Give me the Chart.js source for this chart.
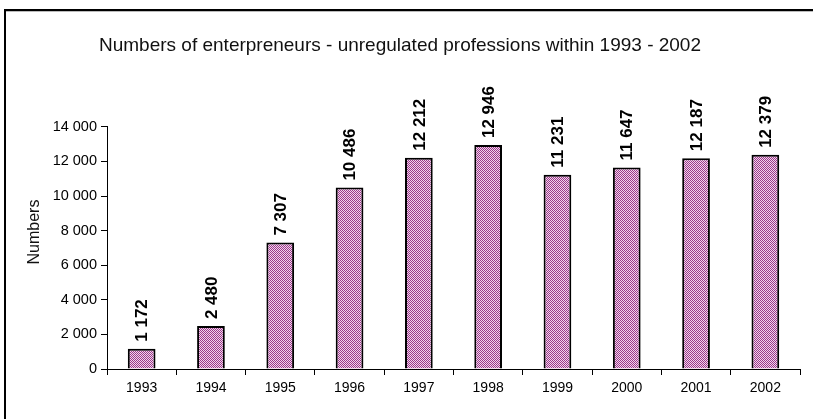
<!DOCTYPE html>
<html>
<head>
<meta charset="utf-8">
<script src="https://cdn.jsdelivr.net/npm/chart.js@4.4.1/dist/chart.umd.min.js"></script>
<style>
  html, body { margin: 0; padding: 0; background: #fff; }
  canvas { display: block; }
</style>
</head>
<body>
<canvas id="entChart" width="813" height="419"></canvas>
<script>
// Years on the x axis
const years = ['1993', '1994', '1995', '1996', '1997', '1998', '1999', '2000', '2001', '2002'];

// Number of enterpreneurs per year
const entrepreneurs = [1172, 2480, 7307, 10486, 12212, 12946, 11231, 11647, 12187, 12379];

// Labels written above the bars
const valueLabels = ['1 172', '2 480', '7 307', '10 486', '12 212', '12 946', '11 231', '11 647', '12 187', '12 379'];

// Y axis tick labels
const yTickLabels = ['0', '2 000', '4 000', '6 000', '8 000', '10 000', '12 000', '14 000'];

const FONT = 'Arial, "Liberation Sans", sans-serif';

const ctx = document.getElementById('entChart').getContext('2d');

// Excel-like 50% checker fill
function makeChecker() {
    const c = document.createElement('canvas');
    c.width = 2;
    c.height = 2;
    const g = c.getContext('2d');
    g.fillStyle = '#f2d4ec';
    g.fillRect(0, 0, 2, 2);
    g.fillStyle = '#9a3a8a';
    g.fillRect(0, 0, 1, 1);
    g.fillRect(1, 1, 1, 1);
    return ctx.createPattern(c, 'repeat');
}

// White background, frame round the chart and the y axis title
const framePlugin = {
    id: 'frame',
    beforeDraw(chart) {
        const c = chart.ctx;
        c.save();
        c.fillStyle = '#fff';
        c.fillRect(0, 0, chart.width, chart.height);
        c.fillStyle = '#bbb';
        c.fillRect(6, 11, chart.width - 6, 1);
        c.fillStyle = '#000';
        c.fillRect(4, 9, chart.width - 4, 2);
        c.fillRect(4, 9, 2, chart.height - 9);
        c.restore();
    },
    afterDraw(chart) {
        const c = chart.ctx;
        c.save();
        c.font = '16px ' + FONT;
        c.fillStyle = '#111';
        c.textAlign = 'center';
        c.textBaseline = 'middle';
        c.translate(35, 232);
        c.rotate(-Math.PI / 2);
        c.fillText('Numbers', 0, 0);
        c.restore();
    }
};

// Rotated value labels above each bar
const barLabels = {
    id: 'barLabels',
    afterDatasetsDraw(chart) {
        const c = chart.ctx;
        const meta = chart.getDatasetMeta(0);
        c.save();
        c.font = 'bold 17px ' + FONT;
        c.fillStyle = '#000';
        c.textAlign = 'left';
        c.textBaseline = 'middle';
        meta.data.forEach((bar, i) => {
            c.save();
            c.translate(bar.x + 1, bar.y - 7);
            c.rotate(-Math.PI / 2);
            c.fillText(valueLabels[i], 0, 0);
            c.restore();
        });
        c.restore();
    }
};

const chart = new Chart(ctx, {
    type: 'bar',
    data: {
        labels: years,
        datasets: [{
            data: entrepreneurs,
            backgroundColor: makeChecker(),
            borderColor: '#000',
            borderWidth: 2,
            borderSkipped: 'bottom',
            categoryPercentage: 1,
            barPercentage: 0.4
        }]
    },
    options: {
        responsive: false,
        animation: false,
        layout: {
            padding: { left: 0, right: 13, top: 0, bottom: 0 }
        },
        plugins: {
            legend: { display: false },
            tooltip: { enabled: false },
            title: {
                display: true,
                text: 'Numbers of enterpreneurs - unregulated professions within 1993 - 2002',
                color: '#111',
                font: { family: FONT, size: 19, weight: 'normal' },
                padding: { top: 34, bottom: 70 }
            }
        },
        scales: {
            x: {
                grid: {
                    drawOnChartArea: false,
                    drawTicks: true,
                    tickLength: 6,
                    color: '#000'
                },
                border: { display: true, color: '#000', width: 1 },
                ticks: {
                    color: '#000',
                    padding: 5,
                    font: { family: FONT, size: 14 }
                },
                afterFit(scale) { scale.height = 50; }
            },
            y: {
                min: 0,
                max: 14000,
                grid: {
                    drawOnChartArea: false,
                    drawTicks: true,
                    tickLength: 6,
                    color: '#000'
                },
                border: { display: true, color: '#000', width: 1 },
                ticks: {
                    stepSize: 2000,
                    color: '#000',
                    padding: 4,
                    font: { family: FONT, size: 14.5 },
                    callback: (v, i) => yTickLabels[i]
                },
                afterFit(scale) { scale.width = 107; }
            }
        }
    },
    plugins: [framePlugin, barLabels]
});
</script>
</body>
</html>
